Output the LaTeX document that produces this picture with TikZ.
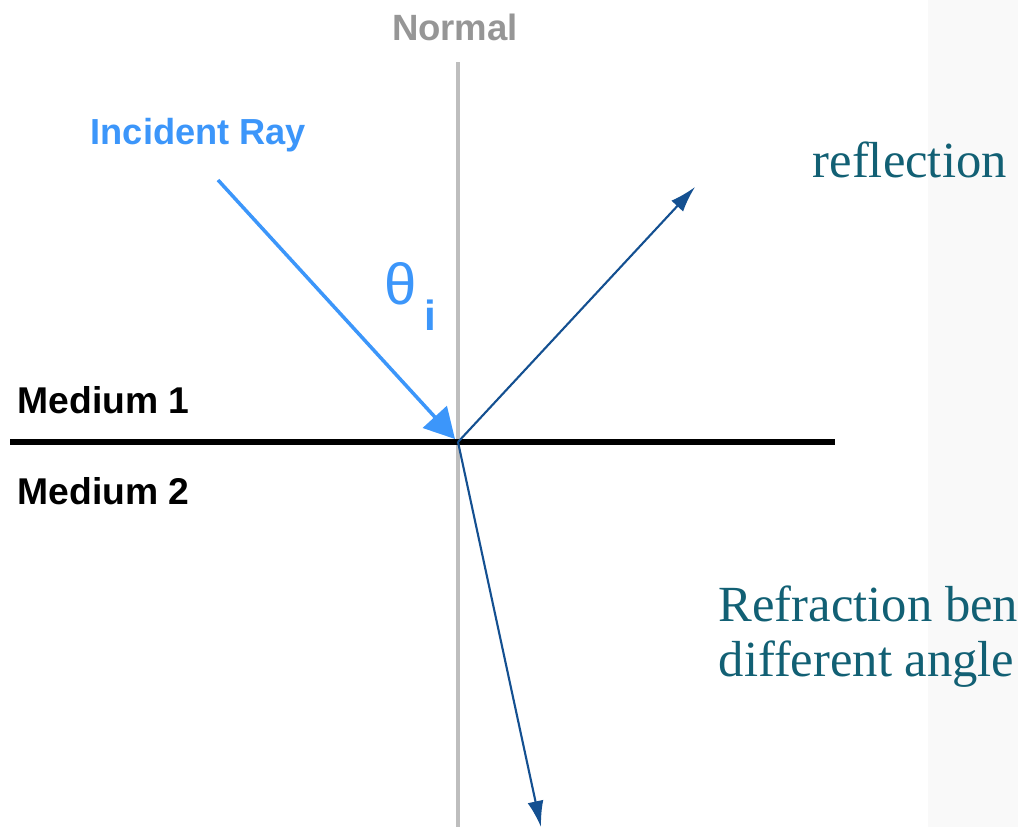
\documentclass[tikz,border=0pt]{standalone}
\usepackage{fontspec}
\setmainfont{Liberation Serif}
\setsansfont{Liberation Sans}
\usetikzlibrary{arrows.meta,positioning}
\definecolor{normalgrau}{RGB}{190,190,190}
\definecolor{normaltext}{RGB}{150,150,150}
\definecolor{einfallblau}{RGB}{60,150,250}
\definecolor{strahlblau}{RGB}{20,80,145}
\definecolor{notizteal}{RGB}{18,96,116}
\definecolor{streifen}{RGB}{249,249,249}
\tikzset{
  medlabel/.style={font=\sffamily\bfseries\fontsize{10.6}{12}\selectfont, anchor=west, inner sep=0pt},
  raylabel/.style={font=\sffamily\bfseries\fontsize{10.3}{12}\selectfont, text=einfallblau, anchor=west, inner sep=0pt},
  notiz/.style={font=\fontsize{14.4}{15.6}\selectfont, text=notizteal, anchor=west, align=left, inner sep=0pt},
  strahl/.style={draw=strahlblau, line width=0.6pt, -{Latex[length=2.6mm,width=1.6mm]}}
}
\begin{document}
\begin{tikzpicture}[x=0.01cm,y=-0.01cm]
\useasboundingbox (0,0) rectangle (1018,827);
\clip (0,0) rectangle (1018,827);
\fill[streifen] (928,0) rectangle (1018,827);

\coordinate (hit) at (458,442);
\coordinate (nrmtop) at (458,62);
\coordinate (nrmbot) at (458,827);
\coordinate (einfall) at (218,180);
\coordinate (einfallend) at (455,439);
\coordinate (reflend) at (695,187);
\coordinate (refrend) at (541,827);
\coordinate (grenzlinks) at (10,442);
\coordinate (grenzrechts) at (835,442);

\draw[normalgrau, line width=0.9pt] (nrmtop) -- (nrmbot);
\draw[black, line width=1.7pt] (grenzlinks) -- (grenzrechts);

\node[font=\sffamily\bfseries\fontsize{10.4}{12}\selectfont, text=normaltext] (normal) at (455,27) {Normal};
\node[raylabel] (einfalltext) at (90,135) {Incident Ray};
\node[medlabel] (med1) at (17,400) {Medium 1};
\node[medlabel] (med2) at (17,491) {Medium 2};
\node[font=\sffamily, text=einfallblau, inner sep=0pt, anchor=west] (theta) at (384,296)
  {\fontsize{16.5}{18}\selectfont θ\raisebox{-2.6mm}{\fontsize{12}{14}\selectfont\bfseries\,i}};

\draw[einfallblau, line width=1pt, -{Triangle[length=3mm,width=3.2mm]}] (einfall) -- (einfallend);
\draw[strahl] (hit) -- (reflend);
\draw[strahl] (hit) -- (refrend);

\node[notiz] (refl) at (812,160) {reflection};
\node[notiz] (refr) at (718,637) {Refraction ben\\different angle};

\end{tikzpicture}
\end{document}
